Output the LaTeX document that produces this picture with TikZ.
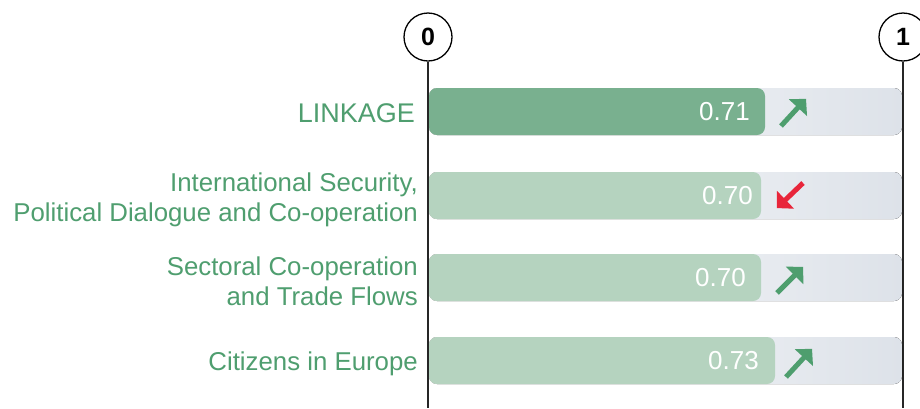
\documentclass[tikz,border=0pt]{standalone}
\usepackage{fontspec}
\setmainfont{Liberation Sans}
\usetikzlibrary{arrows.meta}
\definecolor{lblgreen}{HTML}{4F9E6F}
\definecolor{darkbar}{HTML}{79B08F}
\definecolor{lightbar}{HTML}{B5D3BF}
\definecolor{bggray}{HTML}{DDE2E9}
\definecolor{arrgreen}{HTML}{4E9E6E}
\definecolor{arrred}{HTML}{E8253A}
\tikzset{
  bgbar/.style={rounded corners=8pt, left color=white, right color=bggray, draw=none},
  valbar/.style={rounded corners=8pt, draw=none},
  axis/.style={line width=1.3pt, black!85},
  axlabel/.style={circle, draw, line width=1.3pt, minimum size=48pt, inner sep=0pt, font=\fontsize{25}{25}\selectfont\bfseries},
  rowlabel/.style={anchor=east, align=right, text=lblgreen, font=\fontsize{25.8}{30}\selectfont, inner sep=0pt},
  vallabel/.style={anchor=east, text=white, font=\fontsize{26}{26}\selectfont, inner sep=0pt},
  trend/.style={line width=5pt, -{Triangle[angle=90:17pt]}, shorten >=-3pt}
}
\begin{document}
\begin{tikzpicture}[x=1pt,y=-1pt]
\useasboundingbox (0,0) rectangle (920,408);
% axes
\node[axlabel] (c0) at (428,37) {0};
\node[axlabel] (c1) at (903,37) {1};
\coordinate (b0) at (428,408);
\coordinate (b1) at (903,408);
\draw[axis] (c0.south) -- (b0);
\draw[axis] (c1.south) -- (b1);
% backgrounds
\foreach \y in {88,172,254,337}{
  \fill[bgbar] (429,\y) rectangle (902,\y+47);
}
% value bars
\fill[valbar, darkbar] (429,88) rectangle (765,135);
\fill[valbar, lightbar] (429,172) rectangle (761,219);
\fill[valbar, lightbar] (429,254) rectangle (761,301);
\fill[valbar, lightbar] (429,337) rectangle (775,384);
% values
\node[vallabel] (v1) at (750,112) {0.71};
\node[vallabel] (v2) at (753,196) {0.70};
\node[vallabel] (v3) at (746,278) {0.70};
\node[vallabel] (v4) at (759,361) {0.73};
% labels
\node[rowlabel, font=\fontsize{27}{30}\selectfont] (l1) at (415,113) {LINKAGE};
\node[rowlabel] (l2) at (418,200) {International Security,\\Political Dialogue and Co-operation};
\node[rowlabel] (l3) at (418,281) {Sectoral Co-operation\\and Trade Flows};
\node[rowlabel] (l4) at (418,364) {Citizens in Europe};
% trend arrows
\coordinate (a1s) at (781,126); \coordinate (a1e) at (804,101);
\coordinate (a2s) at (803,183); \coordinate (a2e) at (779,206);
\coordinate (a3s) at (777,293); \coordinate (a3e) at (801,269);
\coordinate (a4s) at (786,377); \coordinate (a4e) at (810,351);
\draw[trend, arrgreen] (a1s) -- (a1e);
\draw[trend, arrred] (a2s) -- (a2e);
\draw[trend, arrgreen] (a3s) -- (a3e);
\draw[trend, arrgreen] (a4s) -- (a4e);
\end{tikzpicture}
\end{document}
